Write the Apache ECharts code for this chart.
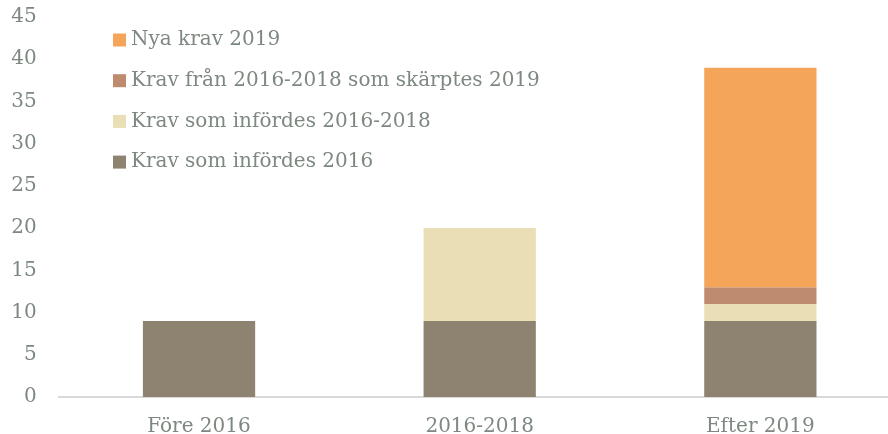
<!DOCTYPE html>
<html>
<head>
<meta charset="utf-8">
<script src="https://cdn.jsdelivr.net/npm/echarts@6/dist/echarts.min.js"></script>
<style>
  html, body { margin: 0; padding: 0; background: #fff; overflow: hidden; }
  #chart { width: 902px; height: 434px; }
</style>
</head>
<body>
<div id="chart"></div>
<script>
const categories = ['Före 2016', '2016-2018', 'Efter 2019']
const krav2016 = [9, 9, 9]
const krav2016to2018 = [0, 11, 2]
const skarptes2019 = [0, 0, 2]
const nya2019 = [0, 0, 26]

const textColor = '#7d8880'
const font = '"DejaVu Serif", "Liberation Serif", serif'

const chart = echarts.init(document.getElementById('chart'))

const bar = (name, data, color) => ({
  name,
  type: 'bar',
  stack: 'total',
  barWidth: '40%',
  data: data.map(v => v || null),
  itemStyle: { color },
})

chart.setOption({
  animation: false,
  textStyle: { fontFamily: font, color: textColor },
  grid: { left: 58.7, top: 17, bottom: 37, width: 842, containLabel: false, outerBoundsMode: 'none' },
  legend: {
    orient: 'vertical',
    left: 108,
    top: 25,
    itemWidth: 13,
    itemHeight: 13,
    itemGap: 20.7,
    icon: 'rect',
    textStyle: { fontFamily: font, fontSize: 20, color: textColor, lineHeight: 20 },
    data: ['Nya krav 2019', 'Krav från 2016-2018 som skärptes 2019',
      'Krav som infördes 2016-2018', 'Krav som infördes 2016'],
  },
  xAxis: {
    type: 'category',
    data: categories,
    axisLine: { lineStyle: { color: '#d9d9d9', width: 2 } },
    axisTick: { show: false },
    axisLabel: { fontFamily: font, fontSize: 20, color: textColor, margin: 20 },
  },
  yAxis: {
    type: 'value',
    min: 0,
    max: 45,
    interval: 5,
    splitLine: { show: false },
    axisLabel: { fontFamily: font, fontSize: 20, color: textColor, margin: 22, padding: [6, 0, 0, 0] },
  },
  series: [
    bar('Krav som infördes 2016', krav2016, '#8e8270'),
    bar('Krav som infördes 2016-2018', krav2016to2018, '#eadeb6'),
    bar('Krav från 2016-2018 som skärptes 2019', skarptes2019, '#bf8b6f'),
    bar('Nya krav 2019', nya2019, '#f5a55a'),
  ],
})
</script>
</body>
</html>
